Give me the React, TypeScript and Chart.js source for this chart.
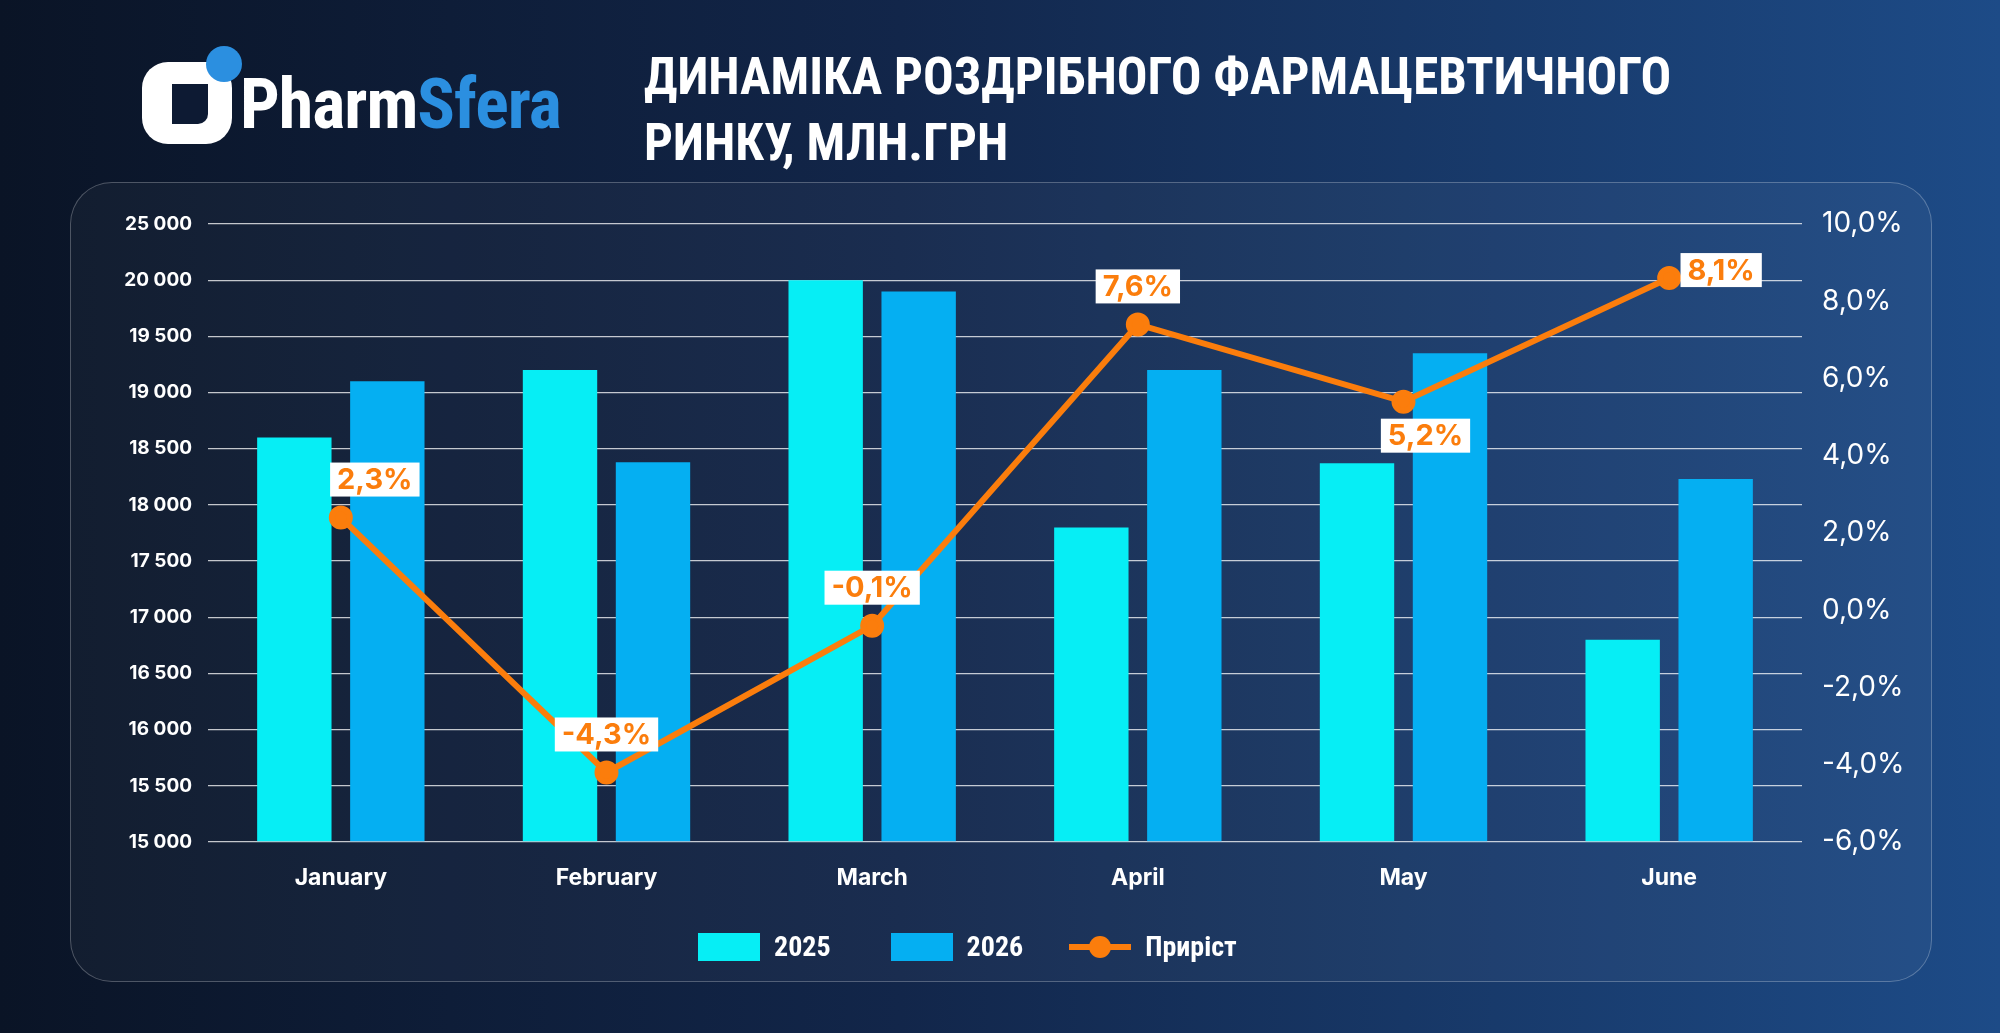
import React, { useEffect, useRef } from "react";
import { Chart, registerables } from "chart.js";
Chart.register(...registerables);

const months = ["January", "February", "March", "April", "May", "June"];
const sales2025 = [18600, 19200, 20000, 17800, 18370, 16800];
const sales2026 = [19100, 18380, 19900, 19200, 19350, 18230];
const growth = [2.4, -4.2, -0.4, 7.4, 5.4, 8.6];
const growthLabels = ["2,3%", "-4,3%", "-0,1%", "7,6%", "5,2%", "8,1%"];
const leftTicks = [15000, 15500, 16000, 16500, 17000, 17500, 18000, 18500, 19000, 19500, 20000, 25000];
const labelPlacement = ["aboveRight", "above", "above", "above", "below", "right"];

// Left axis has equally spaced ticks (non-linear): map value -> tick index space
function toIdx(v: number): number {
  for (let i = 0; i < leftTicks.length - 1; i++) {
    if (v <= leftTicks[i + 1]) return i + (v - leftTicks[i]) / (leftTicks[i + 1] - leftTicks[i]);
  }
  return leftTicks.length - 1;
}
const fmt = (n: number) => String(n).replace(/\B(?=(\d{3})+(?!\d))/g, " ");

const labelPlugin = {
  id: "growthLabels",
  afterDatasetsDraw(chart: any) {
    const meta = chart.getDatasetMeta(2);
    const ctx = chart.ctx;
    ctx.save();
    ctx.font = "bold 29px Inter, 'Noto Sans', sans-serif";
    ctx.textAlign = "center";
    ctx.textBaseline = "middle";
    meta.data.forEach((pt: any, i: number) => {
      const t = growthLabels[i];
      const w = ctx.measureText(t).width + 14;
      const h = 34;
      let cx = pt.x, cy = pt.y - 38;
      const p = labelPlacement[i];
      if (p === "aboveRight") { cx = pt.x + 34; cy = pt.y - 38; }
      if (p === "below") { cx = pt.x + 22; cy = pt.y + 34; }
      if (p === "right") { cx = pt.x + 52; cy = pt.y - 8; }
      ctx.fillStyle = "#ffffff";
      ctx.fillRect(cx - w / 2, cy - h / 2, w, h);
      ctx.fillStyle = "#fb7d0c";
      ctx.fillText(t, cx, cy + 1);
    });
    ctx.restore();
  },
};

export default function App() {
  const ref = useRef<HTMLCanvasElement>(null);
  useEffect(() => {
    const chart = new Chart(ref.current!, {
      type: "bar",
      data: {
        labels: months,
        datasets: [
          { type: "bar", label: "2025", data: sales2025.map(toIdx), backgroundColor: "#06eef5", yAxisID: "y", categoryPercentage: 0.7, barPercentage: 0.8, order: 2 },
          { type: "bar", label: "2026", data: sales2026.map(toIdx), backgroundColor: "#05aff2", yAxisID: "y", categoryPercentage: 0.7, barPercentage: 0.8, order: 2 },
          { type: "line", label: "Приріст", data: growth, borderColor: "#fb7d0c", backgroundColor: "#fb7d0c", borderWidth: 6, pointRadius: 9, pointHoverRadius: 9, yAxisID: "y1", order: 1 } as any,
        ],
      },
      options: {
        animation: false,
        responsive: false,
        layout: { padding: { top: 224, left: 0, right: 0, bottom: 0 } },
        plugins: { legend: { display: false }, tooltip: { enabled: false } },
        scales: {
          x: {
            grid: { display: false },
            border: { display: false },
            ticks: { color: "#ffffff", font: { family: "Inter, 'Noto Sans', sans-serif", size: 23, weight: "bold" }, padding: 14 },
            afterFit: (s: any) => { s.height = 191; },
          },
          y: {
            min: 0, max: leftTicks.length - 1,
            afterBuildTicks: (s: any) => { s.ticks = leftTicks.map((_, i) => ({ value: i })); },
            ticks: { color: "#ffffff", font: { family: "Inter, 'Noto Sans', sans-serif", size: 19, weight: "bold" }, padding: 16, callback: (v: any) => fmt(leftTicks[v as number]) },
            grid: { color: "rgba(255,255,255,0.75)", lineWidth: 1.3, drawTicks: false },
            border: { display: false },
            afterFit: (s: any) => { s.width = 208; },
          },
          y1: {
            position: "right", min: -6, max: 10,
            ticks: { stepSize: 2, color: "#ffffff", font: { family: "Inter, 'Noto Sans', sans-serif", size: 28 }, padding: 12, callback: (v: any) => Number(v).toFixed(1).replace(".", ",") + "%" },
            grid: { display: false },
            border: { display: false },
            afterFit: (s: any) => { s.width = 198; },
          },
        },
      },
      plugins: [labelPlugin],
    });
    return () => chart.destroy();
  }, []);

  const font = "Inter, 'Noto Sans', sans-serif";
  const narrow = "'Liberation Sans Narrow', 'Roboto Condensed', Roboto, sans-serif";
  return (
    <div style={{ position: "fixed", left: 0, top: 0, width: 2000, height: 1033, overflow: "hidden", background: "linear-gradient(90deg, #0a1426 0%, #12264a 45%, #1d4b87 100%)", fontFamily: font }}>
      <div style={{ position: "absolute", left: 70, top: 182, width: 1862, height: 800, borderRadius: 42, background: "rgba(255,255,255,0.035)", border: "1.5px solid rgba(255,255,255,0.25)", boxSizing: "border-box" }} />
      {/* logo */}
      <div style={{ position: "absolute", left: 142, top: 62, width: 90, height: 82, borderRadius: 26, background: "#ffffff" }} />
      <div style={{ position: "absolute", left: 172, top: 84, width: 36, height: 40, borderRadius: "0 0 10px 0", background: "#0d1a33" }} />
      <div style={{ position: "absolute", left: 206, top: 46, width: 36, height: 36, borderRadius: "50%", background: "#2b8fe0" }} />
      <div style={{ position: "absolute", left: 240, top: 64, fontFamily: narrow, fontWeight: "bold", fontSize: 70, lineHeight: "80px", letterSpacing: -1 }}>
        <span style={{ color: "#fff" }}>Pharm</span><span style={{ color: "#2b8fe0" }}>Sfera</span>
      </div>
      <div style={{ position: "absolute", left: 644, top: 44, color: "#fff", fontFamily: narrow, fontWeight: "bold", fontSize: 51, lineHeight: "66px" }}>
        ДИНАМІКА РОЗДРІБНОГО ФАРМАЦЕВТИЧНОГО<br />РИНКУ, МЛН.ГРН
      </div>
      <canvas ref={ref} width={2000} height={1033} style={{ position: "absolute", left: 0, top: 0 }} />
      {/* legend */}
      <div style={{ position: "absolute", top: 930, left: 698, display: "flex", alignItems: "center", color: "#fff", fontFamily: narrow, fontWeight: "bold", fontSize: 28 }}>
        <div style={{ width: 62, height: 28, background: "#06eef5" }} />
        <span style={{ marginLeft: 14, marginRight: 60 }}>2025</span>
        <div style={{ width: 62, height: 28, background: "#05aff2" }} />
        <span style={{ marginLeft: 14, marginRight: 46 }}>2026</span>
        <div style={{ position: "relative", width: 62, height: 28 }}>
          <div style={{ position: "absolute", left: 0, top: 11, width: 62, height: 6, background: "#fb7d0c" }} />
          <div style={{ position: "absolute", left: 20, top: 3, width: 22, height: 22, borderRadius: "50%", background: "#fb7d0c" }} />
        </div>
        <span style={{ marginLeft: 14 }}>Приріст</span>
      </div>
    </div>
  );
}
